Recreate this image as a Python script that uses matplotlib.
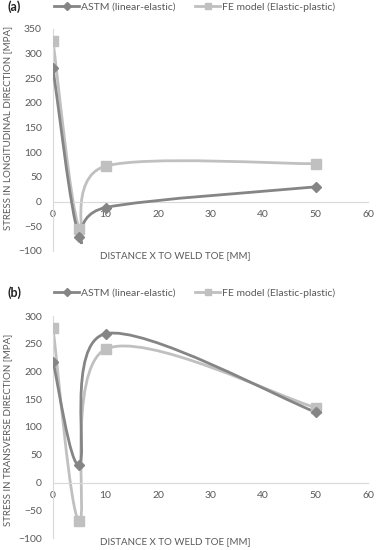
import matplotlib
matplotlib.use("Agg")
import matplotlib.pyplot as plt
from matplotlib.path import Path
from matplotlib.patches import PathPatch
from matplotlib.lines import Line2D

plt.rcParams['font.family'] = ['Lato', 'DejaVu Sans']

distancia = [0, 5, 10, 50]

long_astm = [270, -72, -12, 30]
long_fe = [325, -55, 72, 77]

trans_astm = [218, 32, 268, 127]
trans_fe = [278, -70, 240, 135]

rotulo_astm = "ASTM (linear-elastic)"
rotulo_fe = "FE model (Elastic-plastic)"
rotulo_x = "DISTANCE X TO WELD TOE [MM]"

COR_ASTM = '#858585'
COR_FE = '#c0c0c0'
COR_TEXTO = '#595959'
COR_EIXO = '#d9d9d9'


def curva_suave(ax, xs, ys, cor, zorder):
    # linha suavizada estilo Excel (catmull-rom -> bezier)
    pts = list(zip(xs, ys))
    n = len(pts)
    verts = [pts[0]]
    codes = [Path.MOVETO]
    for i in range(n - 1):
        p0 = pts[i - 1] if i > 0 else pts[i]
        p1 = pts[i]
        p2 = pts[i + 1]
        p3 = pts[i + 2] if i + 2 < n else pts[i + 1]
        c1 = (p1[0] + (p2[0] - p0[0]) / 6, p1[1] + (p2[1] - p0[1]) / 6)
        c2 = (p2[0] - (p3[0] - p1[0]) / 6, p2[1] - (p3[1] - p1[1]) / 6)
        verts += [c1, c2, p2]
        codes += [Path.CURVE4] * 3
    ax.add_patch(PathPatch(Path(verts, codes), fill=False, edgecolor=cor,
                           lw=2, zorder=zorder, capstyle='round'))


def montar_painel(ax, astm, fe, ymin, ymax, rotulo_y, letra, fig, y_leg, y_xlabel, y_ylabel):
    curva_suave(ax, distancia, fe, COR_FE, 2)
    curva_suave(ax, distancia, astm, COR_ASTM, 3)
    ax.plot(distancia, fe, ls='none', marker='s', ms=7, color=COR_FE, zorder=4)
    ax.plot(distancia, astm, ls='none', marker='D', ms=5.5, color=COR_ASTM, zorder=5)

    ax.set_xlim(0, 60)
    ax.set_ylim(ymin, ymax)
    ax.set_xticks(range(0, 61, 10))
    ax.set_yticks(range(ymin, ymax + 1, 50))
    for s in ['top', 'right']:
        ax.spines[s].set_visible(False)
    ax.spines['left'].set_color(COR_EIXO)
    ax.spines['bottom'].set_color(COR_EIXO)
    ax.spines['bottom'].set_position(('data', 0))
    ax.tick_params(length=0, labelsize=7.5, colors=COR_TEXTO)
    ax.tick_params(axis='y', pad=8)
    ax.tick_params(axis='x', pad=6)
    ax.patch.set_alpha(0)

    fig.text(7 / 377, y_leg, letra, fontsize=9, fontweight='bold', va='center', ha='left', color='#222222')
    fig.text(175 / 377, y_xlabel, rotulo_x, fontsize=7, ha='center', va='center', color=COR_TEXTO)
    fig.text(8 / 377, y_ylabel, rotulo_y, fontsize=7, rotation=90, ha='center', va='center', color=COR_TEXTO)

    h1 = Line2D([], [], color=COR_ASTM, lw=2, marker='D', ms=4)
    h2 = Line2D([], [], color=COR_FE, lw=2, marker='s', ms=5)
    fig.legend([h1, h2], [rotulo_astm, rotulo_fe], loc='center left',
               bbox_to_anchor=(50 / 377, y_leg), ncol=2, frameon=False,
               fontsize=7.5, handlelength=2.4, handletextpad=0.15,
               columnspacing=1.9, labelcolor=COR_TEXTO, borderaxespad=0)


fig = plt.figure(figsize=(3.77, 5.5), dpi=100)
ax_a = fig.add_axes([53 / 377, 1 - 251 / 550, 315 / 377, 222 / 550])
ax_b = fig.add_axes([53 / 377, 1 - 538 / 550, 315 / 377, 222 / 550])

montar_painel(ax_a, long_astm, long_fe, -100, 350,
              "STRESS IN LONGITUDINAL DIRECTION [MPA]", "(a)", fig,
              1 - 7 / 550, 1 - 256 / 550, 1 - 128 / 550)
montar_painel(ax_b, trans_astm, trans_fe, -100, 300,
              "STRESS IN TRANSVERSE DIRECTION [MPA]", "(b)", fig,
              1 - 293 / 550, 1 - 542 / 550, 1 - 430 / 550)

fig.savefig("out.png", dpi=100)
